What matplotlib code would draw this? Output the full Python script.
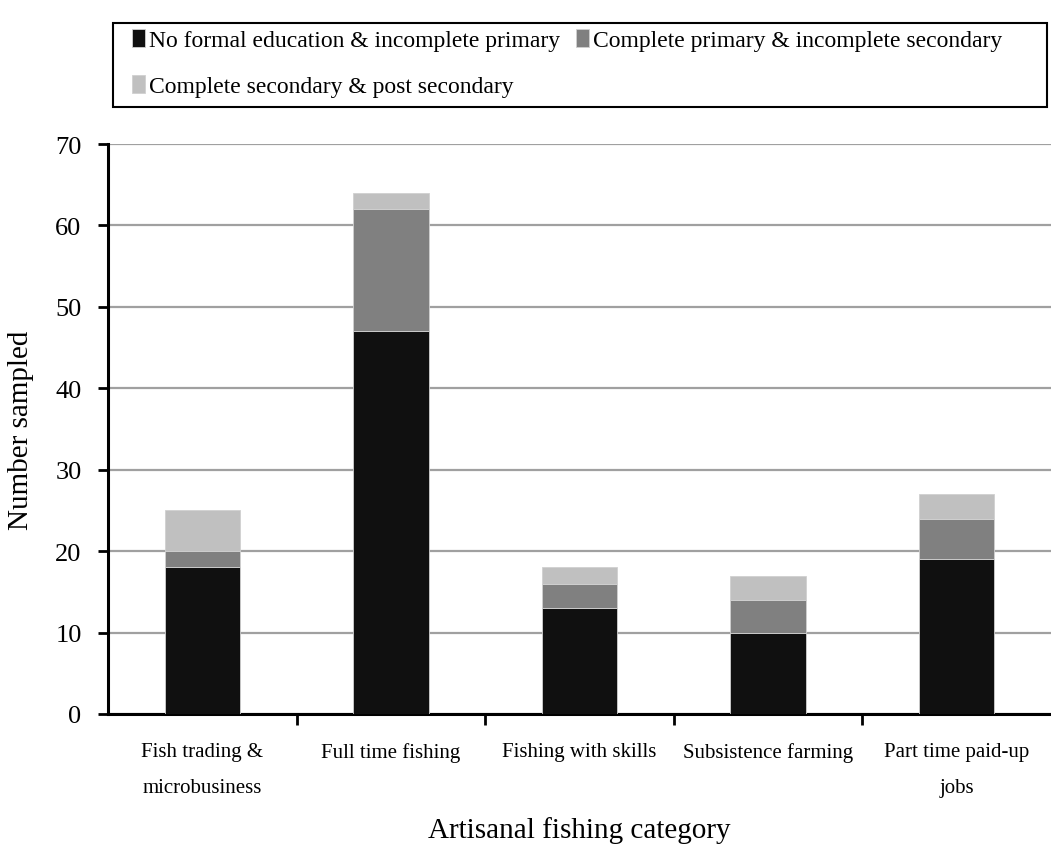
#!/usr/bin/env python3

import numpy as np
from matplotlib import pyplot as plt
from matplotlib.patches import Rectangle

# data
categories = ['Fish trading &\nmicrobusiness', 'Full time fishing',
			  'Fishing with skills', 'Subsistence farming',
			  'Part time paid-up\njobs']
series_names = ['No formal education & incomplete primary',
				'Complete primary & incomplete secondary',
				'Complete secondary & post secondary']
no_formal = [18, 47, 13, 10, 19]
primary = [2, 15, 3, 4, 5]
secondary = [5, 2, 2, 3, 3]

colors = ['#101010', '#808080', '#c0c0c0']

plt.rcParams['font.family'] = ['Liberation Serif', 'DejaVu Serif']

fig = plt.figure(figsize=(10.51, 8.45), dpi=100)
ax = fig.add_axes([108/1051, 1-715/845, 1-108/1051, 570/845])

x = np.arange(len(categories))
bottom = np.zeros(len(categories))
handles = []
for name, values, color in zip(series_names, [no_formal, primary, secondary], colors):
	bars = ax.bar(x, values, width=0.4, bottom=bottom, color=color,
				  label=name, edgecolor='#d0d0d0', linewidth=0.6, zorder=3)
	handles.append(bars)
	bottom += np.array(values)

ax.set_xlim(-0.5, 4.5)
ax.set_ylim(0, 70)
ax.set_yticks(np.arange(0, 71, 10))
ax.yaxis.grid(True, color='#a0a0a0', linewidth=1.6, zorder=0)
ax.set_xticks(x)
ax.set_xticklabels(categories, fontsize=15, linespacing=2.2,
				   verticalalignment='top')
ax.set_xticks(np.arange(0.5, 4.0, 1.0), minor=True)
ax.tick_params(axis='x', which='major', length=0, pad=20)
ax.tick_params(axis='x', which='minor', length=8, width=2, direction='out')
ax.tick_params(axis='y', length=7, width=2, labelsize=19, pad=12)
for side in ['top', 'right']:
	ax.spines[side].set_visible(False)
for side in ['left', 'bottom']:
	ax.spines[side].set_linewidth(2.2)

ax.set_ylabel('Number sampled', fontsize=21, labelpad=15)
ax.set_xlabel('Artisanal fishing category', fontsize=21, labelpad=14)

# legend frame drawn separately so it can span the full width
fig.patches.append(Rectangle((113/1051, 1-108/845), 934/1051, 84/845,
							 transform=fig.transFigure, fill=False,
							 edgecolor='black', linewidth=1.5))
order = [0, 2, 1]
fig.legend([handles[i] for i in order], [series_names[i] for i in order],
		   loc='upper left', bbox_to_anchor=(132/1051, 1-30/845),
		   ncol=2, fontsize=17, frameon=False, handlelength=0.55,
		   handleheight=0.8, handletextpad=0.15, columnspacing=0.7,
		   borderaxespad=0, borderpad=0, labelspacing=1.0)

plt.savefig('out.png', dpi=100)
plt.close()

################################################################################
# EOF
